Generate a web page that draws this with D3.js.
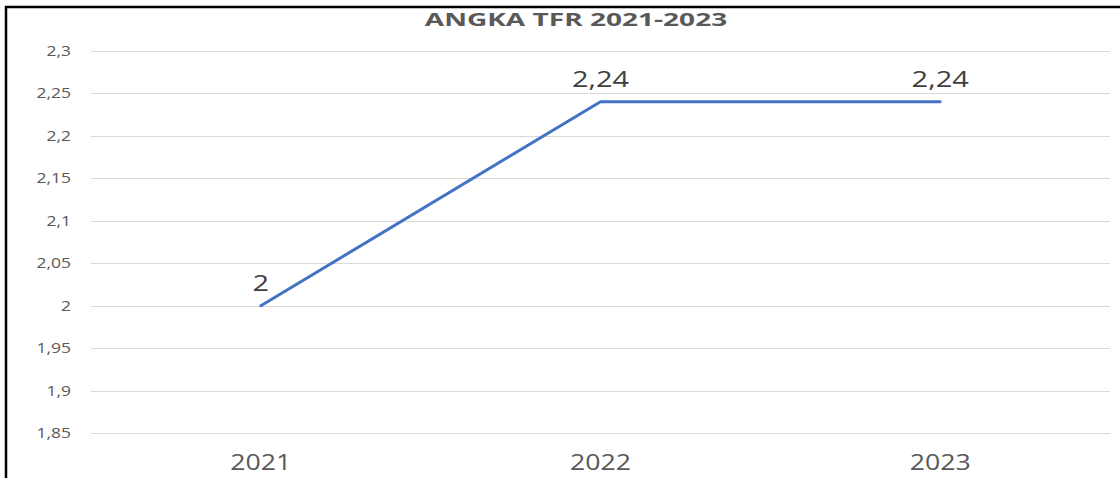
<!DOCTYPE html>
<html>
<head>
<meta charset="utf-8">
<script src="https://cdn.jsdelivr.net/npm/d3@7"></script>
<style>
  html, body { margin: 0; padding: 0; background: #fff; }
  svg { display: block; }
  text { font-family: "Open Sans", sans-serif; }
</style>
</head>
<body>
<svg id="chart" width="1120" height="478"></svg>
<script>
const title = "ANGKA TFR 2021-2023";
const categories = ["2021", "2022", "2023"];
const values = [2.0, 2.24, 2.24];
const valueLabels = ["2", "2,24", "2,24"];
const yTicks = [1.85, 1.9, 1.95, 2.0, 2.05, 2.1, 2.15, 2.2, 2.25, 2.3];
const yTickLabels = ["1,85", "1,9", "1,95", "2", "2,05", "2,1", "2,15", "2,2", "2,25", "2,3"];

const W = 1120, H = 478;
const plot = { left: 91, right: 1110, top: 50.7, bottom: 433.3 };
const SX = 1.25; // horizontal stretch of text in the reference

const svg = d3.select("#chart");
svg.append("rect").attr("width", W).attr("height", H).attr("fill", "#fff");

// frame (top and left border)
svg.append("line").attr("x1", 5).attr("x2", W).attr("y1", 7).attr("y2", 7)
  .attr("stroke", "#000").attr("stroke-width", 2.5);
svg.append("line").attr("x1", 6).attr("x2", 6).attr("y1", 6).attr("y2", H)
  .attr("stroke", "#000").attr("stroke-width", 2.5);

const x = d3.scaleBand().domain(categories).range([plot.left, plot.right]);
const y = d3.scaleLinear().domain([1.85, 2.3]).range([plot.bottom, plot.top]);

function stretchedText(g, tx, ty, txt, opts) {
  const sx = opts.sx || SX;
  return g.append("text")
    .attr("transform", `translate(${tx},${ty}) scale(${sx},1)`)
    .attr("text-anchor", opts.anchor || "middle")
    .attr("font-size", opts.size)
    .attr("font-weight", opts.weight || "normal")
    .attr("fill", opts.fill || "#595959")
    .text(txt);
}

// gridlines
const grid = svg.append("g");
grid.selectAll("line").data(yTicks).join("line")
  .attr("x1", plot.left).attr("x2", plot.right)
  .attr("y1", d => Math.round(y(d)) + 0.5).attr("y2", d => Math.round(y(d)) + 0.5)
  .attr("stroke", "#d9d9d9").attr("stroke-width", 1);

// y tick labels
const yl = svg.append("g");
yTicks.forEach((d, i) => {
  stretchedText(yl, 71, y(d) + 5, yTickLabels[i], { anchor: "end", size: 14 });
});

// x labels
const xl = svg.append("g");
categories.forEach(c => {
  stretchedText(xl, x(c) + x.bandwidth() / 2, 470, c, { size: 21, sx: 1.27 });
});

// line
const line = d3.line()
  .x((d, i) => x(categories[i]) + x.bandwidth() / 2)
  .y(d => y(d));
svg.append("path").datum(values)
  .attr("d", line)
  .attr("fill", "none")
  .attr("stroke", "#4472c4")
  .attr("stroke-width", 3)
  .attr("stroke-linecap", "round")
  .attr("stroke-linejoin", "round");

// data labels
const dl = svg.append("g");
values.forEach((v, i) => {
  stretchedText(dl, x(categories[i]) + x.bandwidth() / 2, y(v) - 14.5, valueLabels[i],
    { size: 21, sx: 1.38, fill: "#404040" });
});

// title
stretchedText(svg, 576, 26, title, { size: 17, weight: "bold", sx: 1.65 });
</script>
</body>
</html>
